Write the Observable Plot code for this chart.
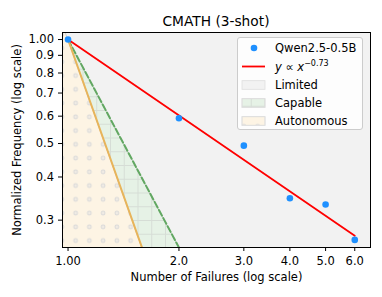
<!DOCTYPE html>
<html>
<head>
<meta charset="utf-8">
<script src="https://cdn.jsdelivr.net/npm/d3@7"></script>
<script src="https://cdn.jsdelivr.net/npm/@observablehq/plot@0.6"></script>
<style>
  html, body { margin: 0; padding: 0; background: white; }
  #wrap { position: relative; width: 382px; height: 297px; font-family: "DejaVu Sans", sans-serif; color: black; }
  #title { position: absolute; left: 62px; width: 308px; top: 13px; text-align: center; font-size: 13.75px; line-height: 16px; }
  #legend { position: absolute; left: 237px; top: 37px; width: 126px; height: 93px; box-sizing: border-box;
            background: rgba(255,255,255,0.8); border: 1px solid #cccccc; border-radius: 3px; }
  #legend .row { position: absolute; left: 37px; height: 16px; line-height: 16px; font-size: 11.5px; white-space: nowrap; }
  #legend svg { position: absolute; left: -1px; top: -1px; }
  sup { font-size: 8px; vertical-align: 5px; line-height: 0; }
</style>
</head>
<body>
<div id="wrap">
  <div id="title"></div>
  <div id="legend"></div>
</div>
<script>
// ---- data ----
const chartTitle = "CMATH (3-shot)";
const seriesName = "Qwen2.5-0.5B";
const failures = [1, 2, 3, 4, 5, 6];
const frequency = [1.0, 0.592, 0.493, 0.347, 0.333, 0.263];
const fitExponent = -0.73;
const fitRange = [1, 6];
const regionNames = ["Limited", "Capable", "Autonomous"];
const regionExponents = [null, -2, -3];
const xTicks = [1, 2, 3, 4, 5, 6];
const xTickLabels = ["1.00", "2.0", "3.0", "4.0", "5.0", "6.0"];
const yTicks = [1.0, 0.9, 0.8, 0.7, 0.6, 0.5, 0.4, 0.3];
const yTickLabels = ["1.00", "0.9", "0.8", "0.7", "0.6", "0.5", "0.4", "0.3"];
const xLabel = "Number of Failures (log scale)";
const yLabel = "Normalized Frequency (log scale)";

// ---- styles ----
const colLimited = "#f2f2f2", colCapable = "#e6f2e6", colAuto = "#fdf4e4";
const colGreen = "#62a862", colOrange = "#e8b45a", colPoint = "#1e90ff";
const xDomain = [0.966, 6.62], yDomain = [0.25, 1.048];

const points = failures.map((f, i) => ({f, v: frequency[i]}));
const fitLine = fitRange.map(x => ({x, y: Math.pow(x, fitExponent)}));
// boundary curves y = x^k, straight in log-log space
function boundaryArea(k) {
  const xEnd = Math.pow(0.2, 1 / k);
  return [0.9, xEnd].map(x => ({x, y: Math.pow(x, k)}));
}
function boundaryLine(k) {
  const xEnd = Math.pow(0.2, 1 / k);
  return [1, xEnd].map(x => ({x, y: Math.pow(x, k)}));
}
const capK = regionExponents[1], autK = regionExponents[2];

const chart = Plot.plot({
  width: 382, height: 297,
  marginTop: 32, marginRight: 12, marginBottom: 50, marginLeft: 62,
  style: {fontFamily: "DejaVu Sans, sans-serif", fontSize: "11.5px", background: "transparent", color: "black"},
  x: {type: "log", domain: xDomain},
  y: {type: "log", domain: yDomain},
  marks: [
    Plot.frame({fill: colLimited, stroke: "none"}),
    Plot.areaY(boundaryArea(capK), {x: "x", y1: 0.1, y2: "y", fill: colCapable, clip: true}),
    Plot.areaY(boundaryArea(capK), {x: "x", y1: 0.1, y2: "y", fill: "url(#hgrid)", stroke: "#cfcfcf", strokeWidth: 1, clip: true}),
    Plot.areaY(boundaryArea(autK), {x: "x", y1: 0.1, y2: "y", fill: colAuto, clip: true}),
    Plot.areaY(boundaryArea(autK), {x: "x", y1: 0.1, y2: "y", fill: "url(#hdots)", stroke: "#cfcfcf", strokeWidth: 1, clip: true}),
    Plot.line(boundaryLine(capK), {x: "x", y: "y", stroke: colGreen, strokeWidth: 2, strokeDasharray: "6.4,2.8", clip: true}),
    Plot.line(boundaryLine(autK), {x: "x", y: "y", stroke: colOrange, strokeWidth: 2, clip: true}),
    Plot.line(fitLine, {x: "x", y: "y", stroke: "red", strokeWidth: 1.8}),
    Plot.dot(points, {x: "f", y: "v", r: 3.3, fill: colPoint, stroke: "none"}),
    Plot.frame({stroke: "black", strokeWidth: 1}),
    Plot.axisX({ticks: xTicks, tickFormat: (d, i) => xTickLabels[xTicks.indexOf(d)], tickSize: 4, tickPadding: 5, label: null}),
    Plot.axisY({ticks: yTicks, tickFormat: (d, i) => yTickLabels[yTicks.indexOf(d)], tickSize: 4, tickPadding: 4.5, label: null}),
    Plot.text([xLabel], {frameAnchor: "bottom", lineAnchor: "middle", textAnchor: "middle", dy: 29.5, fontSize: 11.5, fill: "black"}),
    Plot.text([yLabel], {frameAnchor: "left", lineAnchor: "middle", textAnchor: "middle", dx: -45, rotate: -90, fontSize: 11.5, fill: "black"})
  ]
});

// hatch patterns
const defs = d3.select(chart).insert("defs", ":first-child");
const P = 13.75;
const pg = defs.append("pattern").attr("id", "hgrid").attr("patternUnits", "userSpaceOnUse").attr("width", P).attr("height", P);
pg.append("path").attr("d", `M0,0.5H${P}M0.5,0V${P}`).attr("stroke", "#d6ddd6").attr("stroke-width", 1).attr("fill", "none");
const pd = defs.append("pattern").attr("id", "hdots").attr("patternUnits", "userSpaceOnUse").attr("width", P).attr("height", P);
pd.append("circle").attr("cx", P / 2).attr("cy", P / 2).attr("r", 1.9).attr("fill", "#f0ebe4").attr("stroke", "#d8d8d8").attr("stroke-width", 1);

const wrap = document.getElementById("wrap");
wrap.insertBefore(chart, wrap.firstChild);
document.getElementById("title").textContent = chartTitle;

// legend
const legend = d3.select("#legend");
const rowsY = [10, 28.5, 47, 65, 83];
const ls = legend.append("svg").attr("width", 126).attr("height", 93);
ls.append("circle").attr("cx", 17).attr("cy", rowsY[0] + 1).attr("r", 3.3).attr("fill", colPoint);
ls.append("line").attr("x1", 5).attr("x2", 28).attr("y1", rowsY[1] + 1).attr("y2", rowsY[1] + 1).attr("stroke", "red").attr("stroke-width", 1.8);
const swFills = [[colLimited], [colCapable, "url(#hgrid)"], [colAuto, "url(#hdots)"]];
swFills.forEach((fs, j) => {
  fs.forEach(f => ls.append("rect").attr("x", 5).attr("y", rowsY[j + 2] + 1 - 4.3).attr("width", 23).attr("height", 8.6)
    .attr("fill", f).attr("stroke", "#dedede").attr("stroke-width", 0.8));
});
const labels = [seriesName, null, ...regionNames];
labels.forEach((t, j) => {
  const row = legend.append("div").attr("class", "row").style("top", (rowsY[j] - 8) + "px");
  if (t === null) row.html("<i>y</i> ∝ <i>x</i><sup>−0.73</sup>");
  else row.text(t);
});
</script>
</body>
</html>
